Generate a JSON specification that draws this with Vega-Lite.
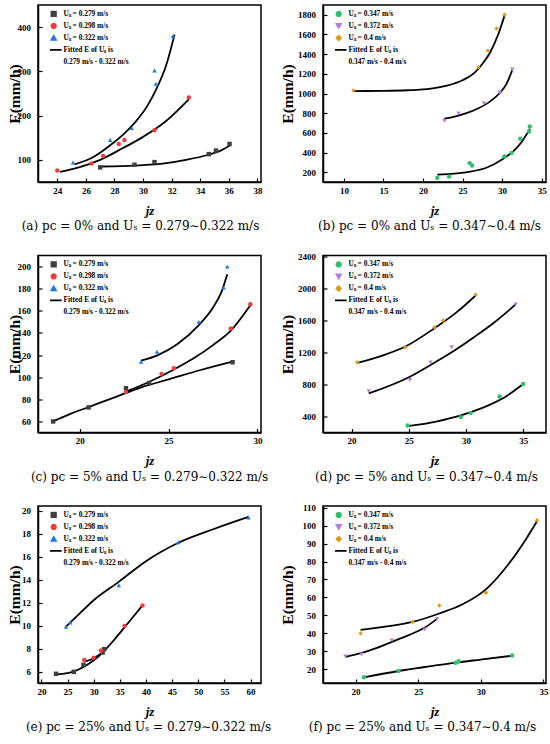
{
  "$schema": "https://vega.github.io/schema/vega-lite/v6.json",
  "background": "white",
  "padding": {"left": 6, "top": 4, "right": 5, "bottom": 4},
  "autosize": {"type": "pad"},
  "columns": 2,
  "spacing": {"row": 73.5, "column": 62},
  "bounds": "flush",
  "resolve": {
    "scale": {"x": "independent", "y": "independent", "color": "independent", "shape": "independent"},
    "legend": {"color": "independent", "shape": "independent"}
  },
  "datasets": {
    "a_p": [
      {"j": 27.0, "E": 83, "s": "0.279"}, {"j": 29.4, "E": 89, "s": "0.279"}, {"j": 30.8, "E": 95, "s": "0.279"},
      {"j": 34.6, "E": 113, "s": "0.279"}, {"j": 35.1, "E": 121, "s": "0.279"}, {"j": 36.05, "E": 136, "s": "0.279"},
      {"j": 24.0, "E": 76, "s": "0.298"}, {"j": 26.4, "E": 92, "s": "0.298"}, {"j": 27.2, "E": 109, "s": "0.298"},
      {"j": 28.3, "E": 136, "s": "0.298"}, {"j": 28.7, "E": 145, "s": "0.298"}, {"j": 30.8, "E": 167, "s": "0.298"},
      {"j": 33.2, "E": 241, "s": "0.298"},
      {"j": 25.1, "E": 94, "s": "0.322"}, {"j": 27.7, "E": 145, "s": "0.322"}, {"j": 29.2, "E": 172, "s": "0.322"},
      {"j": 30.8, "E": 302, "s": "0.322"}, {"j": 30.9, "E": 272, "s": "0.322"}, {"j": 32.1, "E": 380, "s": "0.322"}
    ],
    "a_f": [
      {"j": 27.0, "E": 85, "g": "1", "s": "F"}, {"j": 28.5, "E": 86, "g": "1", "s": "F"}, {"j": 30, "E": 88, "g": "1", "s": "F"},
      {"j": 31.5, "E": 92, "g": "1", "s": "F"}, {"j": 33, "E": 100, "g": "1", "s": "F"}, {"j": 34.5, "E": 111, "g": "1", "s": "F"},
      {"j": 35.5, "E": 122, "g": "1", "s": "F"}, {"j": 36.1, "E": 133, "g": "1", "s": "F"},
      {"j": 24.2, "E": 73, "g": "2", "s": "F"}, {"j": 25.5, "E": 83, "g": "2", "s": "F"}, {"j": 27, "E": 100, "g": "2", "s": "F"},
      {"j": 28.5, "E": 125, "g": "2", "s": "F"}, {"j": 30, "E": 152, "g": "2", "s": "F"}, {"j": 31.5, "E": 185, "g": "2", "s": "F"},
      {"j": 33.2, "E": 237, "g": "2", "s": "F"},
      {"j": 25.2, "E": 90, "g": "3", "s": "F"}, {"j": 26.5, "E": 106, "g": "3", "s": "F"}, {"j": 27.7, "E": 133, "g": "3", "s": "F"},
      {"j": 28.7, "E": 160, "g": "3", "s": "F"}, {"j": 29.5, "E": 187, "g": "3", "s": "F"}, {"j": 30.3, "E": 222, "g": "3", "s": "F"},
      {"j": 31, "E": 265, "g": "3", "s": "F"}, {"j": 31.6, "E": 312, "g": "3", "s": "F"}, {"j": 32.2, "E": 383, "g": "3", "s": "F"}
    ],
    "b_p": [
      {"j": 21.8, "E": 142, "s": "0.347"}, {"j": 23.3, "E": 156, "s": "0.347"}, {"j": 25.9, "E": 292, "s": "0.347"},
      {"j": 26.2, "E": 268, "s": "0.347"}, {"j": 30.3, "E": 360, "s": "0.347"}, {"j": 31.2, "E": 394, "s": "0.347"},
      {"j": 32.3, "E": 540, "s": "0.347"}, {"j": 33.4, "E": 613, "s": "0.347"}, {"j": 33.5, "E": 664, "s": "0.347"},
      {"j": 22.7, "E": 722, "s": "0.372"}, {"j": 24.5, "E": 797, "s": "0.372"}, {"j": 27.7, "E": 899, "s": "0.372"},
      {"j": 29.7, "E": 1010, "s": "0.372"}, {"j": 31.3, "E": 1244, "s": "0.372"},
      {"j": 11.2, "E": 1031, "s": "0.4"}, {"j": 27.0, "E": 1266, "s": "0.4"}, {"j": 28.2, "E": 1436, "s": "0.4"},
      {"j": 29.3, "E": 1660, "s": "0.4"}, {"j": 30.3, "E": 1800, "s": "0.4"}
    ],
    "b_f": [
      {"j": 21.8, "E": 176, "g": "1", "s": "F"}, {"j": 24, "E": 185, "g": "1", "s": "F"}, {"j": 26, "E": 205, "g": "1", "s": "F"},
      {"j": 28, "E": 245, "g": "1", "s": "F"}, {"j": 30, "E": 330, "g": "1", "s": "F"}, {"j": 31.5, "E": 420, "g": "1", "s": "F"},
      {"j": 32.5, "E": 510, "g": "1", "s": "F"}, {"j": 33.5, "E": 640, "g": "1", "s": "F"},
      {"j": 22.7, "E": 745, "g": "2", "s": "F"}, {"j": 24, "E": 765, "g": "2", "s": "F"}, {"j": 25.5, "E": 800, "g": "2", "s": "F"},
      {"j": 27, "E": 850, "g": "2", "s": "F"}, {"j": 28.5, "E": 920, "g": "2", "s": "F"}, {"j": 29.7, "E": 1005, "g": "2", "s": "F"},
      {"j": 30.5, "E": 1090, "g": "2", "s": "F"}, {"j": 31.3, "E": 1240, "g": "2", "s": "F"},
      {"j": 11.2, "E": 1025, "g": "3", "s": "F"}, {"j": 15, "E": 1027, "g": "3", "s": "F"}, {"j": 18, "E": 1033, "g": "3", "s": "F"},
      {"j": 21, "E": 1050, "g": "3", "s": "F"}, {"j": 23, "E": 1080, "g": "3", "s": "F"}, {"j": 25, "E": 1135, "g": "3", "s": "F"},
      {"j": 26.5, "E": 1210, "g": "3", "s": "F"}, {"j": 27.5, "E": 1300, "g": "3", "s": "F"}, {"j": 28.5, "E": 1420, "g": "3", "s": "F"},
      {"j": 29.5, "E": 1600, "g": "3", "s": "F"}, {"j": 30.3, "E": 1790, "g": "3", "s": "F"}
    ],
    "c_p": [
      {"j": 18.5, "E": 60, "s": "0.279"}, {"j": 20.5, "E": 72.7, "s": "0.279"}, {"j": 22.6, "E": 90, "s": "0.279"},
      {"j": 23.9, "E": 94.8, "s": "0.279"}, {"j": 28.6, "E": 113.5, "s": "0.279"},
      {"j": 22.6, "E": 86.5, "s": "0.298"}, {"j": 24.6, "E": 103, "s": "0.298"}, {"j": 25.3, "E": 108, "s": "0.298"},
      {"j": 28.5, "E": 144, "s": "0.298"}, {"j": 29.6, "E": 166, "s": "0.298"},
      {"j": 23.45, "E": 114, "s": "0.322"}, {"j": 24.35, "E": 123, "s": "0.322"}, {"j": 26.7, "E": 150, "s": "0.322"},
      {"j": 28.1, "E": 181, "s": "0.322"}, {"j": 28.3, "E": 200, "s": "0.322"}
    ],
    "c_f": [
      {"j": 18.5, "E": 60, "g": "1", "s": "F"}, {"j": 19.5, "E": 67, "g": "1", "s": "F"}, {"j": 20.5, "E": 73, "g": "1", "s": "F"},
      {"j": 22, "E": 82, "g": "1", "s": "F"}, {"j": 23.5, "E": 91, "g": "1", "s": "F"}, {"j": 25, "E": 98, "g": "1", "s": "F"},
      {"j": 26.8, "E": 106.5, "g": "1", "s": "F"}, {"j": 28.6, "E": 114, "g": "1", "s": "F"},
      {"j": 22.6, "E": 87, "g": "2", "s": "F"}, {"j": 23.8, "E": 95, "g": "2", "s": "F"}, {"j": 25.3, "E": 107, "g": "2", "s": "F"},
      {"j": 26.5, "E": 118, "g": "2", "s": "F"}, {"j": 27.5, "E": 129, "g": "2", "s": "F"}, {"j": 28.5, "E": 142, "g": "2", "s": "F"},
      {"j": 29.6, "E": 165, "g": "2", "s": "F"},
      {"j": 23.45, "E": 115, "g": "3", "s": "F"}, {"j": 24.4, "E": 120, "g": "3", "s": "F"}, {"j": 25.5, "E": 130, "g": "3", "s": "F"},
      {"j": 26.7, "E": 147, "g": "3", "s": "F"}, {"j": 27.5, "E": 163, "g": "3", "s": "F"}, {"j": 28.0, "E": 178, "g": "3", "s": "F"},
      {"j": 28.3, "E": 193, "g": "3", "s": "F"}
    ],
    "d_p": [
      {"j": 24.9, "E": 287, "s": "0.347"}, {"j": 29.55, "E": 392, "s": "0.347"}, {"j": 30.4, "E": 442, "s": "0.347"},
      {"j": 32.95, "E": 650, "s": "0.347"}, {"j": 35.0, "E": 805, "s": "0.347"},
      {"j": 21.5, "E": 717, "s": "0.372"}, {"j": 25.1, "E": 855, "s": "0.372"}, {"j": 26.9, "E": 1076, "s": "0.372"},
      {"j": 28.75, "E": 1264, "s": "0.372"}, {"j": 34.35, "E": 1799, "s": "0.372"},
      {"j": 20.5, "E": 1076, "s": "0.4"}, {"j": 24.7, "E": 1264, "s": "0.4"}, {"j": 27.25, "E": 1515, "s": "0.4"},
      {"j": 28.0, "E": 1598, "s": "0.4"}, {"j": 30.85, "E": 1920, "s": "0.4"}
    ],
    "d_f": [
      {"j": 24.9, "E": 280, "g": "1", "s": "F"}, {"j": 27.4, "E": 337, "g": "1", "s": "F"}, {"j": 29.9, "E": 429, "g": "1", "s": "F"},
      {"j": 32.2, "E": 554, "g": "1", "s": "F"}, {"j": 33.6, "E": 660, "g": "1", "s": "F"}, {"j": 35.0, "E": 805, "g": "1", "s": "F"},
      {"j": 21.5, "E": 688, "g": "2", "s": "F"}, {"j": 25.1, "E": 897, "g": "2", "s": "F"}, {"j": 26.9, "E": 1043, "g": "2", "s": "F"},
      {"j": 28.75, "E": 1202, "g": "2", "s": "F"}, {"j": 30.7, "E": 1390, "g": "2", "s": "F"}, {"j": 32.5, "E": 1577, "g": "2", "s": "F"},
      {"j": 34.35, "E": 1799, "g": "2", "s": "F"},
      {"j": 20.5, "E": 1068, "g": "3", "s": "F"}, {"j": 22.7, "E": 1160, "g": "3", "s": "F"}, {"j": 24.7, "E": 1273, "g": "3", "s": "F"},
      {"j": 27.25, "E": 1502, "g": "3", "s": "F"}, {"j": 29.2, "E": 1703, "g": "3", "s": "F"}, {"j": 30.85, "E": 1911, "g": "3", "s": "F"}
    ],
    "e_p": [
      {"j": 22.8, "E": 5.8, "s": "0.279"}, {"j": 26.2, "E": 5.97, "s": "0.279"}, {"j": 28.05, "E": 6.58, "s": "0.279"},
      {"j": 31.7, "E": 7.65, "s": "0.279"}, {"j": 32.0, "E": 7.94, "s": "0.279"},
      {"j": 28.2, "E": 7.0, "s": "0.298"}, {"j": 30.0, "E": 7.19, "s": "0.298"}, {"j": 31.4, "E": 7.83, "s": "0.298"},
      {"j": 35.9, "E": 9.97, "s": "0.298"}, {"j": 39.35, "E": 11.74, "s": "0.298"},
      {"j": 24.7, "E": 9.88, "s": "0.322"}, {"j": 25.5, "E": 10.26, "s": "0.322"}, {"j": 34.8, "E": 13.5, "s": "0.322"},
      {"j": 46.2, "E": 17.25, "s": "0.322"}, {"j": 59.6, "E": 19.4, "s": "0.322"}
    ],
    "e_f": [
      {"j": 22.8, "E": 5.75, "g": "1", "s": "F"}, {"j": 25, "E": 5.85, "g": "1", "s": "F"}, {"j": 27, "E": 6.15, "g": "1", "s": "F"},
      {"j": 29, "E": 6.65, "g": "1", "s": "F"}, {"j": 31, "E": 7.35, "g": "1", "s": "F"}, {"j": 32, "E": 7.8, "g": "1", "s": "F"},
      {"j": 28.2, "E": 6.85, "g": "2", "s": "F"}, {"j": 30, "E": 7.15, "g": "2", "s": "F"}, {"j": 32, "E": 7.8, "g": "2", "s": "F"},
      {"j": 34, "E": 8.8, "g": "2", "s": "F"}, {"j": 36, "E": 9.9, "g": "2", "s": "F"}, {"j": 38, "E": 11.0, "g": "2", "s": "F"},
      {"j": 39.4, "E": 11.8, "g": "2", "s": "F"},
      {"j": 24.7, "E": 9.9, "g": "3", "s": "F"}, {"j": 27, "E": 10.9, "g": "3", "s": "F"}, {"j": 30, "E": 12.2, "g": "3", "s": "F"},
      {"j": 34.8, "E": 13.8, "g": "3", "s": "F"}, {"j": 40, "E": 15.6, "g": "3", "s": "F"}, {"j": 46.2, "E": 17.2, "g": "3", "s": "F"},
      {"j": 53, "E": 18.4, "g": "3", "s": "F"}, {"j": 59.6, "E": 19.45, "g": "3", "s": "F"}
    ],
    "f_p": [
      {"j": 20.67, "E": 15.4, "s": "0.347"}, {"j": 23.43, "E": 18.9, "s": "0.347"}, {"j": 27.99, "E": 23.5, "s": "0.347"},
      {"j": 28.23, "E": 24.4, "s": "0.347"}, {"j": 32.49, "E": 27.5, "s": "0.347"},
      {"j": 19.2, "E": 27.0, "s": "0.372"}, {"j": 20.46, "E": 28.1, "s": "0.372"}, {"j": 22.9, "E": 36.0, "s": "0.372"},
      {"j": 25.52, "E": 42.1, "s": "0.372"}, {"j": 26.51, "E": 48.0, "s": "0.372"},
      {"j": 20.4, "E": 39.9, "s": "0.4"}, {"j": 24.56, "E": 46.3, "s": "0.4"}, {"j": 26.68, "E": 55.4, "s": "0.4"},
      {"j": 30.4, "E": 62.6, "s": "0.4"}, {"j": 34.48, "E": 103, "s": "0.4"}
    ],
    "f_f": [
      {"j": 20.67, "E": 15.3, "g": "1", "s": "F"}, {"j": 23.43, "E": 18.9, "g": "1", "s": "F"}, {"j": 26, "E": 21.6, "g": "1", "s": "F"},
      {"j": 28, "E": 23.6, "g": "1", "s": "F"}, {"j": 30, "E": 25.3, "g": "1", "s": "F"}, {"j": 32.49, "E": 27.4, "g": "1", "s": "F"},
      {"j": 19.2, "E": 26.8, "g": "2", "s": "F"}, {"j": 20.5, "E": 29.0, "g": "2", "s": "F"}, {"j": 21.7, "E": 31.8, "g": "2", "s": "F"},
      {"j": 22.9, "E": 35.2, "g": "2", "s": "F"}, {"j": 24.2, "E": 38.8, "g": "2", "s": "F"}, {"j": 25.5, "E": 43, "g": "2", "s": "F"},
      {"j": 26.5, "E": 48, "g": "2", "s": "F"},
      {"j": 20.4, "E": 41.8, "g": "3", "s": "F"}, {"j": 22.5, "E": 43.8, "g": "3", "s": "F"}, {"j": 24.56, "E": 46.3, "g": "3", "s": "F"},
      {"j": 26.68, "E": 51, "g": "3", "s": "F"}, {"j": 28.5, "E": 56, "g": "3", "s": "F"}, {"j": 30.4, "E": 64.5, "g": "3", "s": "F"},
      {"j": 32.2, "E": 78.5, "g": "3", "s": "F"}, {"j": 33.6, "E": 92.5, "g": "3", "s": "F"}, {"j": 34.48, "E": 102.5, "g": "3", "s": "F"}
    ]
  },
  "concat": [
    {
      "width": 223, "height": 177,
      "title": {"text": "(a) pc = 0% and Uₛ = 0.279∼0.322 m/s", "dx": -9},
      "encoding": {
        "x": {"field": "j", "type": "quantitative", "title": "jz", "scale": {"domain": [22.65, 38.25], "nice": false, "zero": false}, "axis": {"values": [24, 26, 28, 30, 32, 34, 36, 38]}},
        "y": {"field": "E", "type": "quantitative", "title": "E(mm/h)", "scale": {"domain": [50, 450], "nice": false, "zero": false}, "axis": {"values": [100, 200, 300, 400], "format": "d", "titleX": -24}}
      },
      "layer": [
        {"data": {"name": "a_f"}, "mark": {"type": "line", "interpolate": "monotone", "strokeWidth": 1.8},
         "encoding": {"detail": {"field": "g"},
           "color": {"field": "s", "type": "nominal", "scale": {"domain": ["0.279", "0.298", "0.322", "F", "R"], "range": ["#404040", "#f03c3c", "#1f77e6", "black", "transparent"]},
             "legend": {"title": null, "labelExpr": "datum.value == 'F' ? 'Fitted E of  Uₛ is' : datum.value == 'R' ? '0.279 m/s - 0.322 m/s' : 'Uₛ = ' + datum.value + ' m/s'",
               "encode": {"symbols": {"update": {
                 "shape": {"signal": "datum.value == 'F' ? 'M-2.9,0H2.9' : datum.value == '0.279' ? 'square' : datum.value == '0.298' ? 'circle' : 'triangle-up'"},
                 "fill": {"signal": "datum.value == '0.279' ? '#404040' : datum.value == '0.298' ? '#f03c3c' : datum.value == '0.322' ? '#1f77e6' : 'transparent'"},
                 "stroke": {"signal": "datum.value == 'F' ? 'black' : 'transparent'"},
                 "size": {"signal": "datum.value == 'F' ? 30 : 20"},
                 "strokeWidth": {"value": 1.8}, "opacity": {"value": 1}}}}}}}},
        {"data": {"name": "a_p"}, "mark": {"type": "point", "filled": true, "opacity": 1, "size": 20},
         "encoding": {
           "color": {"field": "s", "type": "nominal", "scale": {"domain": ["0.279", "0.298", "0.322", "F", "R"], "range": ["#404040", "#f03c3c", "#1f77e6", "black", "transparent"]},
             "legend": {"title": null, "labelExpr": "datum.value == 'F' ? 'Fitted E of  Uₛ is' : datum.value == 'R' ? '0.279 m/s - 0.322 m/s' : 'Uₛ = ' + datum.value + ' m/s'",
               "encode": {"symbols": {"update": {
                 "shape": {"signal": "datum.value == 'F' ? 'M-2.9,0H2.9' : datum.value == '0.279' ? 'square' : datum.value == '0.298' ? 'circle' : 'triangle-up'"},
                 "fill": {"signal": "datum.value == '0.279' ? '#404040' : datum.value == '0.298' ? '#f03c3c' : datum.value == '0.322' ? '#1f77e6' : 'transparent'"},
                 "stroke": {"signal": "datum.value == 'F' ? 'black' : 'transparent'"},
                 "size": {"signal": "datum.value == 'F' ? 30 : 20"},
                 "strokeWidth": {"value": 1.8}, "opacity": {"value": 1}}}}}},
           "shape": {"field": "s", "type": "nominal", "scale": {"domain": ["0.279", "0.298", "0.322"], "range": ["square", "circle", "triangle-up"]}, "legend": null}}}
      ]
    },
    {
      "width": 223, "height": 177,
      "title": {"text": "(b) pc = 0% and Uₛ = 0.347∼0.4 m/s", "dx": -5},
      "encoding": {
        "x": {"field": "j", "type": "quantitative", "title": "jz", "scale": {"domain": [7.35, 35.55], "nice": false, "zero": false}, "axis": {"values": [10, 15, 20, 25, 30, 35]}},
        "y": {"field": "E", "type": "quantitative", "title": "E(mm/h)", "scale": {"domain": [100, 1900], "nice": false, "zero": false}, "axis": {"values": [200, 400, 600, 800, 1000, 1200, 1400, 1600, 1800], "format": "d", "titleX": -36}}
      },
      "layer": [
        {"data": {"name": "b_f"}, "mark": {"type": "line", "interpolate": "monotone", "strokeWidth": 1.8},
         "encoding": {"detail": {"field": "g"},
           "color": {"field": "s", "type": "nominal", "scale": {"domain": ["0.347", "0.372", "0.4", "F", "R"], "range": ["#2fbf71", "#b07fe3", "#d89c1a", "black", "transparent"]},
             "legend": {"title": null, "labelExpr": "datum.value == 'F' ? 'Fitted E of  Uₛ is' : datum.value == 'R' ? '0.347 m/s - 0.4 m/s' : 'Uₛ = ' + datum.value + ' m/s'",
               "encode": {"symbols": {"update": {
                 "shape": {"signal": "datum.value == 'F' ? 'M-2.9,0H2.9' : datum.value == '0.347' ? 'circle' : datum.value == '0.372' ? 'triangle-down' : 'diamond'"},
                 "fill": {"signal": "datum.value == '0.347' ? '#2fbf71' : datum.value == '0.372' ? '#b07fe3' : datum.value == '0.4' ? '#d89c1a' : 'transparent'"},
                 "stroke": {"signal": "datum.value == 'F' ? 'black' : 'transparent'"},
                 "size": {"signal": "datum.value == 'F' ? 30 : 20"},
                 "strokeWidth": {"value": 1.8}, "opacity": {"value": 1}}}}}}}},
        {"data": {"name": "b_p"}, "mark": {"type": "point", "filled": true, "opacity": 1, "size": 20},
         "encoding": {
           "color": {"field": "s", "type": "nominal", "scale": {"domain": ["0.347", "0.372", "0.4", "F", "R"], "range": ["#2fbf71", "#b07fe3", "#d89c1a", "black", "transparent"]},
             "legend": {"title": null, "labelExpr": "datum.value == 'F' ? 'Fitted E of  Uₛ is' : datum.value == 'R' ? '0.347 m/s - 0.4 m/s' : 'Uₛ = ' + datum.value + ' m/s'",
               "encode": {"symbols": {"update": {
                 "shape": {"signal": "datum.value == 'F' ? 'M-2.9,0H2.9' : datum.value == '0.347' ? 'circle' : datum.value == '0.372' ? 'triangle-down' : 'diamond'"},
                 "fill": {"signal": "datum.value == '0.347' ? '#2fbf71' : datum.value == '0.372' ? '#b07fe3' : datum.value == '0.4' ? '#d89c1a' : 'transparent'"},
                 "stroke": {"signal": "datum.value == 'F' ? 'black' : 'transparent'"},
                 "size": {"signal": "datum.value == 'F' ? 30 : 20"},
                 "strokeWidth": {"value": 1.8}, "opacity": {"value": 1}}}}}},
           "shape": {"field": "s", "type": "nominal", "scale": {"domain": ["0.347", "0.372", "0.4"], "range": ["circle", "triangle-down", "diamond"]}, "legend": null}}}
      ]
    },
    {
      "width": 223, "height": 177,
      "title": {"text": "(c) pc = 5% and Uₛ = 0.279∼0.322 m/s", "dx": 0},
      "encoding": {
        "x": {"field": "j", "type": "quantitative", "title": "jz", "scale": {"domain": [17.65, 30.2], "nice": false, "zero": false}, "axis": {"values": [20, 25, 30]}},
        "y": {"field": "E", "type": "quantitative", "title": "E(mm/h)", "scale": {"domain": [50, 210], "nice": false, "zero": false}, "axis": {"values": [60, 80, 100, 120, 140, 160, 180, 200], "format": "d", "titleX": -24}}
      },
      "layer": [
        {"data": {"name": "c_f"}, "mark": {"type": "line", "interpolate": "monotone", "strokeWidth": 1.8},
         "encoding": {"detail": {"field": "g"},
           "color": {"field": "s", "type": "nominal", "scale": {"domain": ["0.279", "0.298", "0.322", "F", "R"], "range": ["#404040", "#f03c3c", "#1f77e6", "black", "transparent"]},
             "legend": {"title": null, "labelExpr": "datum.value == 'F' ? 'Fitted E of  Uₛ is' : datum.value == 'R' ? '0.279 m/s - 0.322 m/s' : 'Uₛ = ' + datum.value + ' m/s'",
               "encode": {"symbols": {"update": {
                 "shape": {"signal": "datum.value == 'F' ? 'M-2.9,0H2.9' : datum.value == '0.279' ? 'square' : datum.value == '0.298' ? 'circle' : 'triangle-up'"},
                 "fill": {"signal": "datum.value == '0.279' ? '#404040' : datum.value == '0.298' ? '#f03c3c' : datum.value == '0.322' ? '#1f77e6' : 'transparent'"},
                 "stroke": {"signal": "datum.value == 'F' ? 'black' : 'transparent'"},
                 "size": {"signal": "datum.value == 'F' ? 30 : 20"},
                 "strokeWidth": {"value": 1.8}, "opacity": {"value": 1}}}}}}}},
        {"data": {"name": "c_p"}, "mark": {"type": "point", "filled": true, "opacity": 1, "size": 20},
         "encoding": {
           "color": {"field": "s", "type": "nominal", "scale": {"domain": ["0.279", "0.298", "0.322", "F", "R"], "range": ["#404040", "#f03c3c", "#1f77e6", "black", "transparent"]},
             "legend": {"title": null, "labelExpr": "datum.value == 'F' ? 'Fitted E of  Uₛ is' : datum.value == 'R' ? '0.279 m/s - 0.322 m/s' : 'Uₛ = ' + datum.value + ' m/s'",
               "encode": {"symbols": {"update": {
                 "shape": {"signal": "datum.value == 'F' ? 'M-2.9,0H2.9' : datum.value == '0.279' ? 'square' : datum.value == '0.298' ? 'circle' : 'triangle-up'"},
                 "fill": {"signal": "datum.value == '0.279' ? '#404040' : datum.value == '0.298' ? '#f03c3c' : datum.value == '0.322' ? '#1f77e6' : 'transparent'"},
                 "stroke": {"signal": "datum.value == 'F' ? 'black' : 'transparent'"},
                 "size": {"signal": "datum.value == 'F' ? 30 : 20"},
                 "strokeWidth": {"value": 1.8}, "opacity": {"value": 1}}}}}},
           "shape": {"field": "s", "type": "nominal", "scale": {"domain": ["0.279", "0.298", "0.322"], "range": ["square", "circle", "triangle-up"]}, "legend": null}}}
      ]
    },
    {
      "width": 223, "height": 177,
      "title": {"text": "(d) pc = 5% and Uₛ = 0.347∼0.4 m/s", "dx": -8},
      "encoding": {
        "x": {"field": "j", "type": "quantitative", "title": "jz", "scale": {"domain": [17.5, 37.0], "nice": false, "zero": false}, "axis": {"values": [20, 25, 30, 35]}},
        "y": {"field": "E", "type": "quantitative", "title": "E(mm/h)", "scale": {"domain": [200, 2410], "nice": false, "zero": false}, "axis": {"values": [400, 800, 1200, 1600, 2000, 2400], "format": "d", "titleX": -36}}
      },
      "layer": [
        {"data": {"name": "d_f"}, "mark": {"type": "line", "interpolate": "monotone", "strokeWidth": 1.8},
         "encoding": {"detail": {"field": "g"},
           "color": {"field": "s", "type": "nominal", "scale": {"domain": ["0.347", "0.372", "0.4", "F", "R"], "range": ["#2fbf71", "#b07fe3", "#d89c1a", "black", "transparent"]},
             "legend": {"title": null, "labelExpr": "datum.value == 'F' ? 'Fitted E of  Uₛ is' : datum.value == 'R' ? '0.347 m/s - 0.4 m/s' : 'Uₛ = ' + datum.value + ' m/s'",
               "encode": {"symbols": {"update": {
                 "shape": {"signal": "datum.value == 'F' ? 'M-2.9,0H2.9' : datum.value == '0.347' ? 'circle' : datum.value == '0.372' ? 'triangle-down' : 'diamond'"},
                 "fill": {"signal": "datum.value == '0.347' ? '#2fbf71' : datum.value == '0.372' ? '#b07fe3' : datum.value == '0.4' ? '#d89c1a' : 'transparent'"},
                 "stroke": {"signal": "datum.value == 'F' ? 'black' : 'transparent'"},
                 "size": {"signal": "datum.value == 'F' ? 30 : 20"},
                 "strokeWidth": {"value": 1.8}, "opacity": {"value": 1}}}}}}}},
        {"data": {"name": "d_p"}, "mark": {"type": "point", "filled": true, "opacity": 1, "size": 20},
         "encoding": {
           "color": {"field": "s", "type": "nominal", "scale": {"domain": ["0.347", "0.372", "0.4", "F", "R"], "range": ["#2fbf71", "#b07fe3", "#d89c1a", "black", "transparent"]},
             "legend": {"title": null, "labelExpr": "datum.value == 'F' ? 'Fitted E of  Uₛ is' : datum.value == 'R' ? '0.347 m/s - 0.4 m/s' : 'Uₛ = ' + datum.value + ' m/s'",
               "encode": {"symbols": {"update": {
                 "shape": {"signal": "datum.value == 'F' ? 'M-2.9,0H2.9' : datum.value == '0.347' ? 'circle' : datum.value == '0.372' ? 'triangle-down' : 'diamond'"},
                 "fill": {"signal": "datum.value == '0.347' ? '#2fbf71' : datum.value == '0.372' ? '#b07fe3' : datum.value == '0.4' ? '#d89c1a' : 'transparent'"},
                 "stroke": {"signal": "datum.value == 'F' ? 'black' : 'transparent'"},
                 "size": {"signal": "datum.value == 'F' ? 30 : 20"},
                 "strokeWidth": {"value": 1.8}, "opacity": {"value": 1}}}}}},
           "shape": {"field": "s", "type": "nominal", "scale": {"domain": ["0.347", "0.372", "0.4"], "range": ["circle", "triangle-down", "diamond"]}, "legend": null}}}
      ]
    },
    {
      "width": 223, "height": 177,
      "title": {"text": "(e) pc = 25% and Uₛ = 0.279∼0.322 m/s", "dx": -1},
      "encoding": {
        "x": {"field": "j", "type": "quantitative", "title": "jz", "scale": {"domain": [19.35, 62], "nice": false, "zero": false}, "axis": {"values": [20, 25, 30, 35, 40, 45, 50, 55, 60]}},
        "y": {"field": "E", "type": "quantitative", "title": "E(mm/h)", "scale": {"domain": [5, 20.4], "nice": false, "zero": false}, "axis": {"values": [6, 8, 10, 12, 14, 16, 18, 20], "format": "d", "titleX": -24}}
      },
      "layer": [
        {"data": {"name": "e_f"}, "mark": {"type": "line", "interpolate": "monotone", "strokeWidth": 1.8},
         "encoding": {"detail": {"field": "g"},
           "color": {"field": "s", "type": "nominal", "scale": {"domain": ["0.279", "0.298", "0.322", "F", "R"], "range": ["#404040", "#f03c3c", "#1f77e6", "black", "transparent"]},
             "legend": {"title": null, "labelExpr": "datum.value == 'F' ? 'Fitted E of  Uₛ is' : datum.value == 'R' ? '0.279 m/s - 0.322 m/s' : 'Uₛ = ' + datum.value + ' m/s'",
               "encode": {"symbols": {"update": {
                 "shape": {"signal": "datum.value == 'F' ? 'M-2.9,0H2.9' : datum.value == '0.279' ? 'square' : datum.value == '0.298' ? 'circle' : 'triangle-up'"},
                 "fill": {"signal": "datum.value == '0.279' ? '#404040' : datum.value == '0.298' ? '#f03c3c' : datum.value == '0.322' ? '#1f77e6' : 'transparent'"},
                 "stroke": {"signal": "datum.value == 'F' ? 'black' : 'transparent'"},
                 "size": {"signal": "datum.value == 'F' ? 30 : 20"},
                 "strokeWidth": {"value": 1.8}, "opacity": {"value": 1}}}}}}}},
        {"data": {"name": "e_p"}, "mark": {"type": "point", "filled": true, "opacity": 1, "size": 20},
         "encoding": {
           "color": {"field": "s", "type": "nominal", "scale": {"domain": ["0.279", "0.298", "0.322", "F", "R"], "range": ["#404040", "#f03c3c", "#1f77e6", "black", "transparent"]},
             "legend": {"title": null, "labelExpr": "datum.value == 'F' ? 'Fitted E of  Uₛ is' : datum.value == 'R' ? '0.279 m/s - 0.322 m/s' : 'Uₛ = ' + datum.value + ' m/s'",
               "encode": {"symbols": {"update": {
                 "shape": {"signal": "datum.value == 'F' ? 'M-2.9,0H2.9' : datum.value == '0.279' ? 'square' : datum.value == '0.298' ? 'circle' : 'triangle-up'"},
                 "fill": {"signal": "datum.value == '0.279' ? '#404040' : datum.value == '0.298' ? '#f03c3c' : datum.value == '0.322' ? '#1f77e6' : 'transparent'"},
                 "stroke": {"signal": "datum.value == 'F' ? 'black' : 'transparent'"},
                 "size": {"signal": "datum.value == 'F' ? 30 : 20"},
                 "strokeWidth": {"value": 1.8}, "opacity": {"value": 1}}}}}},
           "shape": {"field": "s", "type": "nominal", "scale": {"domain": ["0.279", "0.298", "0.322"], "range": ["square", "circle", "triangle-up"]}, "legend": null}}}
      ]
    },
    {
      "width": 223, "height": 177,
      "title": {"text": "(f) pc = 25% and Uₛ = 0.347∼0.4 m/s", "dx": -12},
      "encoding": {
        "x": {"field": "j", "type": "quantitative", "title": "jz", "scale": {"domain": [17.4, 35.2], "nice": false, "zero": false}, "axis": {"values": [20, 25, 30, 35]}},
        "y": {"field": "E", "type": "quantitative", "title": "E(mm/h)", "scale": {"domain": [12.2, 111], "nice": false, "zero": false}, "axis": {"values": [20, 30, 40, 50, 60, 70, 80, 90, 100, 110], "format": "d", "titleX": -36}}
      },
      "layer": [
        {"data": {"name": "f_f"}, "mark": {"type": "line", "interpolate": "monotone", "strokeWidth": 1.8},
         "encoding": {"detail": {"field": "g"},
           "color": {"field": "s", "type": "nominal", "scale": {"domain": ["0.347", "0.372", "0.4", "F", "R"], "range": ["#2fbf71", "#b07fe3", "#d89c1a", "black", "transparent"]},
             "legend": {"title": null, "labelExpr": "datum.value == 'F' ? 'Fitted E of  Uₛ is' : datum.value == 'R' ? '0.347 m/s - 0.4 m/s' : 'Uₛ = ' + datum.value + ' m/s'",
               "encode": {"symbols": {"update": {
                 "shape": {"signal": "datum.value == 'F' ? 'M-2.9,0H2.9' : datum.value == '0.347' ? 'circle' : datum.value == '0.372' ? 'triangle-down' : 'diamond'"},
                 "fill": {"signal": "datum.value == '0.347' ? '#2fbf71' : datum.value == '0.372' ? '#b07fe3' : datum.value == '0.4' ? '#d89c1a' : 'transparent'"},
                 "stroke": {"signal": "datum.value == 'F' ? 'black' : 'transparent'"},
                 "size": {"signal": "datum.value == 'F' ? 30 : 20"},
                 "strokeWidth": {"value": 1.8}, "opacity": {"value": 1}}}}}}}},
        {"data": {"name": "f_p"}, "mark": {"type": "point", "filled": true, "opacity": 1, "size": 20},
         "encoding": {
           "color": {"field": "s", "type": "nominal", "scale": {"domain": ["0.347", "0.372", "0.4", "F", "R"], "range": ["#2fbf71", "#b07fe3", "#d89c1a", "black", "transparent"]},
             "legend": {"title": null, "labelExpr": "datum.value == 'F' ? 'Fitted E of  Uₛ is' : datum.value == 'R' ? '0.347 m/s - 0.4 m/s' : 'Uₛ = ' + datum.value + ' m/s'",
               "encode": {"symbols": {"update": {
                 "shape": {"signal": "datum.value == 'F' ? 'M-2.9,0H2.9' : datum.value == '0.347' ? 'circle' : datum.value == '0.372' ? 'triangle-down' : 'diamond'"},
                 "fill": {"signal": "datum.value == '0.347' ? '#2fbf71' : datum.value == '0.372' ? '#b07fe3' : datum.value == '0.4' ? '#d89c1a' : 'transparent'"},
                 "stroke": {"signal": "datum.value == 'F' ? 'black' : 'transparent'"},
                 "size": {"signal": "datum.value == 'F' ? 30 : 20"},
                 "strokeWidth": {"value": 1.8}, "opacity": {"value": 1}}}}}},
           "shape": {"field": "s", "type": "nominal", "scale": {"domain": ["0.347", "0.372", "0.4"], "range": ["circle", "triangle-down", "diamond"]}, "legend": null}}}
      ]
    }
  ],
  "config": {
    "font": "Liberation Serif",
    "view": {"stroke": "black", "strokeWidth": 1.5},
    "axis": {
      "grid": false,
      "domainColor": "black", "domainWidth": 1.5,
      "tickColor": "black", "tickWidth": 1.2, "tickSize": -4,
      "labelFont": "Liberation Serif", "labelFontWeight": "bold", "labelFontSize": 9, "labelColor": "black",
      "titleFont": "Liberation Serif", "titleFontWeight": "bold", "titleColor": "black"
    },
    "axisX": {"labelPadding": 8, "titleFontSize": 13, "titleFontStyle": "italic", "titleY": 28, "titleBaseline": "middle"},
    "axisY": {"labelPadding": 11.5, "titleFontSize": 15.5, "titleBaseline": "middle"},
    "legend": {
      "orient": "none", "legendX": 12, "legendY": 5.2, "padding": 0,
      "labelFont": "Liberation Serif", "labelFontSize": 7.4, "labelFontWeight": "bold", "labelColor": "black",
      "symbolSize": 30, "clipHeight": 7.5, "rowPadding": 3, "labelOffset": 6, "labelLimit": 200
    },
    "title": {"orient": "bottom", "frame": "group", "anchor": "middle", "font": "DejaVu Serif", "fontSize": 12, "fontWeight": "normal", "color": "black", "offset": 4}
  }
}
